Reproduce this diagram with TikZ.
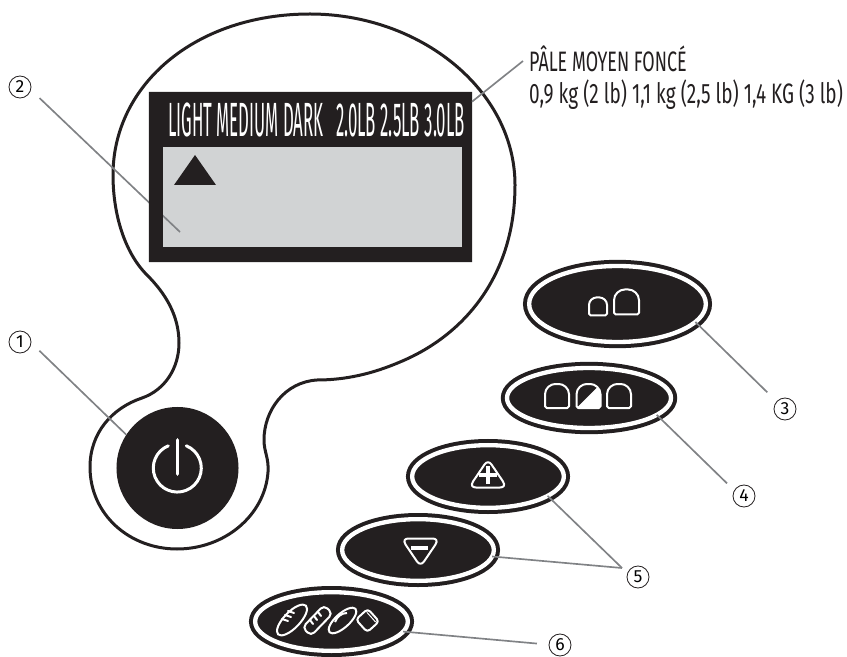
\documentclass[tikz,border=0pt]{standalone}
\usepackage{fontspec}
\usepackage{graphicx}
\usepackage{xcolor}
\usetikzlibrary{arrows.meta,positioning,shapes.geometric}
\setmainfont{Fira Sans}
\newfontfamily\labelfont[FakeStretch=0.677]{Fira Sans}
\newfontfamily\lcdfont[FakeStretch=0.35]{Fira Sans}
\definecolor{ink}{HTML}{231F20}
\definecolor{screengrey}{HTML}{D1D3D4}
\definecolor{leadgrey}{HTML}{808285}

\begin{document}
\begin{tikzpicture}[
    x=0.03cm,
    y=-0.03cm,
    button/.style={
        ellipse,
        fill=ink,
        draw=ink,
        line width=0.12cm,
        double=white,
        double distance=0.13cm,
        inner sep=0pt,
        outer sep=0pt
    },
    badge/.style={
        circle,
        draw=ink,
        line width=0.7pt,
        minimum size=0.66cm,
        inner sep=0pt,
        font=\fontsize{15}{15}\selectfont
    },
    lead/.style={
        draw=leadgrey,
        line width=0.05cm
    },
    icon/.style={
        draw=white,
        line width=0.06cm,
        line join=round
    },
    loaf/.pic={
        \draw[icon,rounded corners=1.5pt] (-1,1) -- (-1,0)
            .. controls (-1,-0.65) and (-0.55,-1) .. (0,-1)
            .. controls (0.55,-1) and (1,-0.65) .. (1,0)
            -- (1,1) -- cycle;
    },
    halfloaf/.pic={
        \begin{scope}
        \clip (-1,1) -- (-1,0)
            .. controls (-1,-0.65) and (-0.55,-1) .. (0,-1)
            .. controls (0.55,-1) and (1,-0.65) .. (1,0)
            -- (1,1) -- cycle;
        \fill[white] (1,-1) -- (1,1) -- (-1,1) -- cycle;
        \end{scope}
        \draw[icon,rounded corners=1.5pt] (-1,1) -- (-1,0)
            .. controls (-1,-0.65) and (-0.55,-1) .. (0,-1)
            .. controls (0.55,-1) and (1,-0.65) .. (1,0)
            -- (1,1) -- cycle;
    },
    wedge/.pic={
        \draw[icon] (-3.5,-10.5) .. controls (-1.5,-13.5) and (1.5,-13.5) .. (3.5,-10.5)
            -- (15,6.5) .. controls (17.5,10.5) and (15.5,12.5) .. (12,12.5)
            -- (-12,12.5) .. controls (-15.5,12.5) and (-17.5,10.5) .. (-15,6.5) -- cycle;
    }
]
\useasboundingbox (0,0) rectangle (847,657);

% ---------------- OUTLINE ----------------

\draw[ink,line width=0.09cm]
    (310,14) .. controls (420,14) and (515,90) .. (515,185)
    .. controls (515,275) and (465,335) .. (400,362)
    .. controls (372,374) and (345,380) .. (317,380)
    .. controls (285,382) and (264,410) .. (264,440)
    .. controls (264,452) and (269,458) .. (268,472)
    .. controls (265,515) and (225,549) .. (177,549)
    .. controls (130,549) and (90,515) .. (90,467)
    .. controls (90,433) and (112,408) .. (142,398)
    .. controls (165,390) and (179,368) .. (179,343)
    .. controls (179,315) and (165,293) .. (147,275)
    .. controls (125,253) and (113,215) .. (113,175)
    .. controls (113,85) and (195,14) .. (310,14) -- cycle;

% ---------------- DISPLAY ----------------

\node[minimum width=9.69cm,minimum height=5.1cm,inner sep=0pt,outer sep=0pt]
    (lcd) at (310.5,177) {};

\node[fill=screengrey,minimum width=8.97cm,minimum height=3cm,inner sep=0pt,outer sep=0pt]
    (screen) at (312.5,197) {};

\node[badge] (num2) at (20,87) {2};
\coordinate (screenend) at (180,232);
\draw[lead,shorten <=10pt] (num2.-15) -- (screenend);

\fill[ink,even odd rule]
    (lcd.north west) rectangle (lcd.south east)
    (screen.north west) rectangle (screen.south east);

\fill[ink] (195,155) -- (216,185) -- (174,185) -- cycle;

\node[white,inner sep=0pt,font=\fontsize{41}{41}\selectfont\lcdfont]
    (lcdtext) at (316.5,119.5) {LIGHT MEDIUM DARK\, 2.0LB 2.5LB 3.0LB};

% ---------------- POWER ----------------

\node[circle,fill=ink,minimum size=3.66cm,inner sep=0pt,outer sep=0pt]
    (power) at (177.5,468) {};

\draw[white,line width=0.09cm,line cap=round]
    (168.3,445.8) arc[start angle=112,end angle=428,x radius=24,y radius=-24];
\draw[white,line width=0.11cm,line cap=round] (177.5,440) -- (177.5,474);

% ---------------- BUTTONS ----------------

\node[button,minimum width=5.3cm,minimum height=2.28cm] (size) at (617.5,304) {};
\pic[scale=9] at (598,306.5) {loaf};
\pic[scale=12.5] at (626.5,302) {loaf};

\node[button,minimum width=4.92cm,minimum height=1.8cm] (crust) at (589,398) {};
\pic[scale=12] at (557,396) {loaf};
\pic[scale=12] at (588.5,396) {halfloaf};
\pic[scale=12] at (619,396) {loaf};

\node[button,minimum width=4.55cm,minimum height=1.88cm] (plus) at (488,476.5) {};
\pic at (488,475) {wedge};
\draw[white,line width=0.12cm] (479,475) -- (497,475) (488,466) -- (488,484);

\node[button,minimum width=4.55cm,minimum height=1.85cm] (minus) at (418,550) {};
\pic[yscale=-1] at (420.5,551) {wedge};
\draw[white,line width=0.12cm] (411,548) -- (428,548);

\node[button,minimum width=4.58cm,minimum height=1.76cm] (program) at (331.5,621.5) {};

% bread shapes
\draw[icon,rotate around={46:(292,620)}] (292,620) ellipse (20 and 8);
\draw[icon,line cap=round] (288,611) -- (294,613) (285,615) -- (291,617) (282,619) -- (288,621);
\draw[icon,rounded corners=4pt,rotate around={46:(317.5,620.5)}] (302,614.5) rectangle (333,626.5);
\draw[icon,line cap=round] (318,612) -- (321,616) (314,616) -- (317,620) (310,620) -- (313,624);
\draw[icon,rotate around={42:(342.5,620.5)}] (342.5,620.5) ellipse (17.5 and 7);
\draw[icon] (335,622) .. controls (337,617) and (341,613) .. (347,613);
\draw[icon,rounded corners=3pt,rotate around={42:(367.5,620.5)}] (359.5,612) rectangle (375.5,629);
\draw[icon,line width=0.03cm,rotate around={42:(367.5,620.5)}] (372.5,614) -- (372.5,627);

% ---------------- CALLOUTS ----------------

\node[anchor=north west,inner sep=0pt,align=left,ink,
    font=\fontsize{24}{27}\selectfont\labelfont]
    (french) at (529,46) {\scalebox{0.94}[1]{PÂLE MOYEN FONCÉ}\\0,9 kg (2 lb) 1,1 kg (2,5 lb) 1,4 KG (3 lb)};
\coordinate (frenchend) at (523,61);
\draw[lead] (lcd.25) -- (frenchend);

\node[badge] (num1) at (20,342) {1};
\node[badge] (num3) at (785,409) {3};
\node[badge] (num4) at (744,496) {4};
\node[badge] (num5) at (638,577) {5};
\node[badge] (num6) at (560,645) {6};
\coordinate (fork) at (622,568);

\draw[lead,shorten <=9.5pt] (num1.-5) -- (power.147);
\draw[lead,shorten <=11pt] (num3.138) -- (size.-13);
\draw[lead,shorten <=8.5pt] (num4.150) -- (crust.-14);
\draw[lead] (fork) -- (plus.-18.6);
\draw[lead] (fork) -- (minus.-5.8);
\draw[lead,shorten <=10pt] (num6.178) -- (program.-8.7);

\end{tikzpicture}
\end{document}
